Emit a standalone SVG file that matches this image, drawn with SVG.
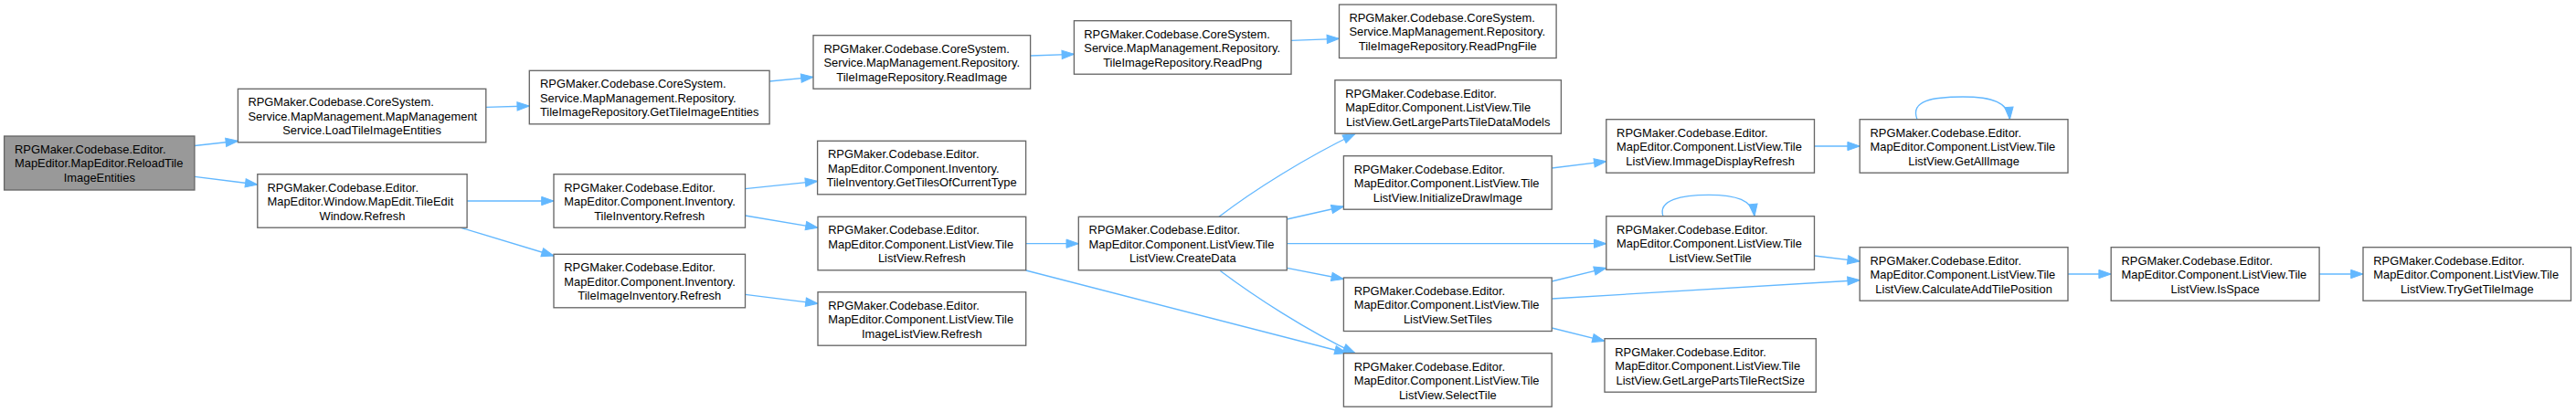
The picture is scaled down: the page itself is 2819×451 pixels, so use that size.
<svg xmlns="http://www.w3.org/2000/svg" width="2819" height="451" viewBox="0 0 2819 451">
<style>
.n rect{fill:#ffffff;stroke:#666666;stroke-width:1.33}
.root rect{fill:#999999}
text{font-family:"Liberation Sans",Arial,Helvetica,sans-serif;font-size:12.9px;fill:#000000}
.m{text-anchor:middle}
.e path{fill:none;stroke:#63b8ff;stroke-width:1.33;marker-end:url(#a)}
</style>
<defs>
<marker id="a" markerUnits="userSpaceOnUse" markerWidth="14" markerHeight="10" refX="13.3" refY="4.65" orient="auto" overflow="visible">
<path d="M0,0 L13.3,4.65 L0,9.3 z" fill="#63b8ff" stroke="#63b8ff" stroke-width="1"/>
</marker>
</defs>
<rect width="2819" height="451" fill="#ffffff"/>
<g id="edges" class="e">
<path d="M213,159.5 L260.4,154.3"/>
<path d="M213,193.3 L281.8,202"/>
<path d="M531.8,117.3 L579.3,116"/>
<path d="M842,89 L890,84.3"/>
<path d="M1127.6,61 L1175.4,59.3"/>
<path d="M1413,44.3 L1465.5,42.3"/>
<path d="M511,220 L606,220"/>
<path d="M503.6,249 L606,280"/>
<path d="M815.5,206.7 L894.6,198.3"/>
<path d="M815.5,236 L895,249.3"/>
<path d="M815.5,322.3 L895,332.3"/>
<path d="M1122.7,266.7 L1180.3,266.7"/>
<path d="M1122.7,296 L1474,386.5"/>
<path d="M1334,237.3 C1372,208 1430,172 1483,146.5"/>
<path d="M1408.3,240 L1470.4,226"/>
<path d="M1408.3,266.7 L1757.8,266.7"/>
<path d="M1408.3,293.3 L1470.4,305.5"/>
<path d="M1335.4,296.5 C1372,324 1430,362 1483,386.7"/>
<path d="M1698.2,184 L1757.8,176.7"/>
<path d="M1985.5,160 L2035.2,160"/>
<path d="M2098,130.7 C2090,110 2115,106 2148,106 C2180,106 2198,112 2199.4,130.7"/>
<path d="M1820,236.7 C1814,219 1840,213.3 1870,213.3 C1900,213.3 1918,219 1920,236.7"/>
<path d="M1698.2,308 L1757.8,293.3"/>
<path d="M1698.2,327 L2035.2,306.7"/>
<path d="M1698.2,359 L1756,373.3"/>
<path d="M1985.7,280 L2035.2,286"/>
<path d="M2263,300 L2310.2,300"/>
<path d="M2538,300 L2586,300"/>
</g>
<g id="n0" class="n root"><rect x="4.6" y="149" width="208.3" height="59"/><text x="16" y="167.8">RPGMaker.Codebase.Editor.</text><text x="16" y="183.3">MapEditor.MapEditor.ReloadTile</text><text class="m" x="108.8" y="198.8">ImageEntities</text></g>
<g id="n1" class="n"><rect x="260.4" y="97.3" width="271.4" height="58.5"/><text x="271.4" y="116.1">RPGMaker.Codebase.CoreSystem.</text><text x="271.4" y="131.6">Service.MapManagement.MapManagement</text><text class="m" x="396.1" y="147.1">Service.LoadTileImageEntities</text></g>
<g id="n2" class="n"><rect x="281.8" y="190.7" width="229.3" height="58.5"/><text x="292.5" y="209.5">RPGMaker.Codebase.Editor.</text><text x="292.5" y="225">MapEditor.Window.MapEdit.TileEdit</text><text class="m" x="396.4" y="240.5">Window.Refresh</text></g>
<g id="n3" class="n"><rect x="579.3" y="77.3" width="262.8" height="58.5"/><text x="591" y="96.1">RPGMaker.Codebase.CoreSystem.</text><text x="591" y="111.6">Service.MapManagement.Repository.</text><text class="m" x="710.7" y="127.1">TileImageRepository.GetTileImageEntities</text></g>
<g id="n4" class="n"><rect x="890" y="38.7" width="237.6" height="58.5"/><text x="901.4" y="57.5">RPGMaker.Codebase.CoreSystem.</text><text x="901.4" y="73">Service.MapManagement.Repository.</text><text class="m" x="1008.8" y="88.5">TileImageRepository.ReadImage</text></g>
<g id="n5" class="n"><rect x="894.6" y="154.3" width="228" height="58.5"/><text x="906" y="173.1">RPGMaker.Codebase.Editor.</text><text x="906" y="188.6">MapEditor.Component.Inventory.</text><text class="m" x="1008.6" y="204.1">TileInventory.GetTilesOfCurrentType</text></g>
<g id="n6" class="n"><rect x="606" y="190.7" width="209.5" height="58.5"/><text x="617.3" y="209.5">RPGMaker.Codebase.Editor.</text><text x="617.3" y="225">MapEditor.Component.Inventory.</text><text class="m" x="710.75" y="240.5">TileInventory.Refresh</text></g>
<g id="n7" class="n"><rect x="606" y="278.3" width="209.5" height="58.5"/><text x="617.3" y="297.1">RPGMaker.Codebase.Editor.</text><text x="617.3" y="312.6">MapEditor.Component.Inventory.</text><text class="m" x="710.75" y="328.1">TileImageInventory.Refresh</text></g>
<g id="n8" class="n"><rect x="895" y="237.3" width="227.7" height="58.5"/><text x="906.3" y="256.1">RPGMaker.Codebase.Editor.</text><text x="906.3" y="271.6">MapEditor.Component.ListView.Tile</text><text class="m" x="1008.8" y="287.1">ListView.Refresh</text></g>
<g id="n9" class="n"><rect x="895" y="319.7" width="227.7" height="58.5"/><text x="906.3" y="338.5">RPGMaker.Codebase.Editor.</text><text x="906.3" y="354">MapEditor.Component.ListView.Tile</text><text class="m" x="1008.8" y="369.5">ImageListView.Refresh</text></g>
<g id="n10" class="n"><rect x="1175.4" y="22.7" width="237.6" height="58.5"/><text x="1186.3" y="41.5">RPGMaker.Codebase.CoreSystem.</text><text x="1186.3" y="57">Service.MapManagement.Repository.</text><text class="m" x="1294.2" y="72.5">TileImageRepository.ReadPng</text></g>
<g id="n11" class="n"><rect x="1465.5" y="5" width="237.6" height="58.5"/><text x="1476.4" y="23.8">RPGMaker.Codebase.CoreSystem.</text><text x="1476.4" y="39.3">Service.MapManagement.Repository.</text><text class="m" x="1584.3" y="54.8">TileImageRepository.ReadPngFile</text></g>
<g id="n12" class="n"><rect x="1460.9" y="87.7" width="247.5" height="58.5"/><text x="1472.3" y="106.5">RPGMaker.Codebase.Editor.</text><text x="1472.3" y="122">MapEditor.Component.ListView.Tile</text><text class="m" x="1584.65" y="137.5">ListView.GetLargePartsTileDataModels</text></g>
<g id="n13" class="n"><rect x="1470.4" y="170.7" width="227.8" height="58.5"/><text x="1481.7" y="189.5">RPGMaker.Codebase.Editor.</text><text x="1481.7" y="205">MapEditor.Component.ListView.Tile</text><text class="m" x="1584.3" y="220.5">ListView.InitializeDrawImage</text></g>
<g id="n14" class="n"><rect x="1180.3" y="237.3" width="228" height="58.5"/><text x="1191.6" y="256.1">RPGMaker.Codebase.Editor.</text><text x="1191.6" y="271.6">MapEditor.Component.ListView.Tile</text><text class="m" x="1294.3" y="287.1">ListView.CreateData</text></g>
<g id="n15" class="n"><rect x="1470.4" y="304" width="227.8" height="58.5"/><text x="1481.7" y="322.8">RPGMaker.Codebase.Editor.</text><text x="1481.7" y="338.3">MapEditor.Component.ListView.Tile</text><text class="m" x="1584.3" y="353.8">ListView.SetTiles</text></g>
<g id="n16" class="n"><rect x="1470.4" y="386.7" width="227.8" height="58.5"/><text x="1481.7" y="405.5">RPGMaker.Codebase.Editor.</text><text x="1481.7" y="421">MapEditor.Component.ListView.Tile</text><text class="m" x="1584.3" y="436.5">ListView.SelectTile</text></g>
<g id="n17" class="n"><rect x="1757.8" y="130.7" width="227.7" height="58.5"/><text x="1769.1" y="149.5">RPGMaker.Codebase.Editor.</text><text x="1769.1" y="165">MapEditor.Component.ListView.Tile</text><text class="m" x="1871.65" y="180.5">ListView.ImmageDisplayRefresh</text></g>
<g id="n18" class="n"><rect x="2035.2" y="130.7" width="227.8" height="58.5"/><text x="2046.5" y="149.5">RPGMaker.Codebase.Editor.</text><text x="2046.5" y="165">MapEditor.Component.ListView.Tile</text><text class="m" x="2149.1" y="180.5">ListView.GetAllImage</text></g>
<g id="n19" class="n"><rect x="1757.8" y="236.7" width="227.7" height="58.5"/><text x="1769.1" y="255.5">RPGMaker.Codebase.Editor.</text><text x="1769.1" y="271">MapEditor.Component.ListView.Tile</text><text class="m" x="1871.65" y="286.5">ListView.SetTile</text></g>
<g id="n20" class="n"><rect x="2035.2" y="270.7" width="227.8" height="58.5"/><text x="2046.5" y="289.5">RPGMaker.Codebase.Editor.</text><text x="2046.5" y="305">MapEditor.Component.ListView.Tile</text><text class="m" x="2149.1" y="320.5">ListView.CalculateAddTilePosition</text></g>
<g id="n21" class="n"><rect x="1756" y="370.7" width="231.3" height="58.5"/><text x="1767.3" y="389.5">RPGMaker.Codebase.Editor.</text><text x="1767.3" y="405">MapEditor.Component.ListView.Tile</text><text class="m" x="1871.65" y="420.5">ListView.GetLargePartsTileRectSize</text></g>
<g id="n22" class="n"><rect x="2310.2" y="270.7" width="227.9" height="58.5"/><text x="2321.5" y="289.5">RPGMaker.Codebase.Editor.</text><text x="2321.5" y="305">MapEditor.Component.ListView.Tile</text><text class="m" x="2424.2" y="320.5">ListView.IsSpace</text></g>
<g id="n23" class="n"><rect x="2586" y="270.7" width="227.5" height="58.5"/><text x="2597.3" y="289.5">RPGMaker.Codebase.Editor.</text><text x="2597.3" y="305">MapEditor.Component.ListView.Tile</text><text class="m" x="2699.75" y="320.5">ListView.TryGetTileImage</text></g>
</svg>
